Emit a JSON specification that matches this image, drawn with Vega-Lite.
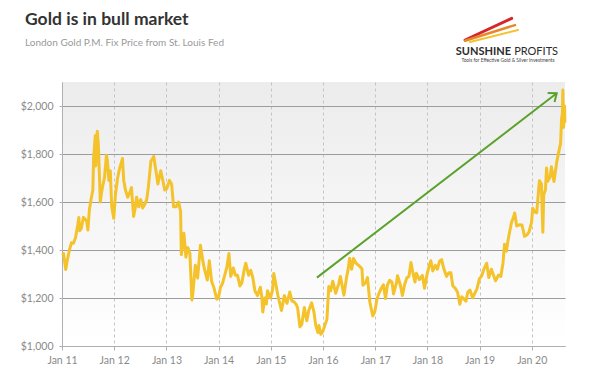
{
  "$schema": "https://vega.github.io/schema/vega-lite/v6.json",
  "width": 503,
  "height": 264,
  "autosize": {"type": "none"},
  "padding": {"left": 62, "top": 82, "right": 28, "bottom": 36},
  "background": "white",
  "title": {
    "text": "Gold is in bull market",
    "subtitle": "London Gold P.M. Fix Price from St. Louis Fed",
    "anchor": "start",
    "frame": "group",
    "dx": -37,
    "offset": -31,
    "font": "Lato",
    "fontSize": 17.5,
    "fontWeight": "bold",
    "color": "#333333",
    "subtitleFont": "Lato",
    "subtitleFontSize": 10,
    "subtitleColor": "#9a9a9a",
    "subtitlePadding": 9
  },
  "config": {
    "font": "Lato",
    "view": {
      "stroke": null,
      "fill": {"gradient": "linear", "x1": 0, "y1": 0, "x2": 0, "y2": 1,
        "stops": [{"offset": 0, "color": "#ececec"}, {"offset": 1, "color": "#ffffff"}]}
    }
  },
  "datasets": {
    "gold": [
      {"d":"2011-01-04","p":1378},{"d":"2011-01-12","p":1385},{"d":"2011-01-27","p":1319},{"d":"2011-02-08","p":1360},{"d":"2011-02-22","p":1400},{"d":"2011-03-08","p":1430},{"d":"2011-03-22","p":1428},{"d":"2011-04-05","p":1450},{"d":"2011-04-20","p":1500},{"d":"2011-04-29","p":1535},{"d":"2011-05-05","p":1480},{"d":"2011-05-16","p":1490},{"d":"2011-05-31","p":1536},{"d":"2011-06-10","p":1530},{"d":"2011-06-23","p":1520},{"d":"2011-07-01","p":1483},{"d":"2011-07-12","p":1570},{"d":"2011-07-26","p":1620},{"d":"2011-08-05","p":1650},{"d":"2011-08-10","p":1780},{"d":"2011-08-22","p":1877},{"d":"2011-08-25","p":1750},{"d":"2011-09-05","p":1895},{"d":"2011-09-13","p":1830},{"d":"2011-09-26","p":1600},{"d":"2011-10-05","p":1640},{"d":"2011-10-14","p":1670},{"d":"2011-10-25","p":1700},{"d":"2011-11-08","p":1795},{"d":"2011-11-15","p":1770},{"d":"2011-11-25","p":1690},{"d":"2011-12-05","p":1730},{"d":"2011-12-15","p":1580},{"d":"2011-12-29","p":1532},
      {"d":"2012-01-10","p":1630},{"d":"2012-01-25","p":1700},{"d":"2012-02-08","p":1740},{"d":"2012-02-28","p":1781},{"d":"2012-03-08","p":1690},{"d":"2012-03-20","p":1650},{"d":"2012-04-05","p":1620},{"d":"2012-04-20","p":1640},{"d":"2012-05-01","p":1660},{"d":"2012-05-16","p":1540},{"d":"2012-05-29","p":1580},{"d":"2012-06-06","p":1620},{"d":"2012-06-21","p":1580},{"d":"2012-07-05","p":1610},{"d":"2012-07-18","p":1575},{"d":"2012-08-02","p":1590},{"d":"2012-08-16","p":1610},{"d":"2012-08-28","p":1665},{"d":"2012-09-14","p":1770},{"d":"2012-10-04","p":1790},{"d":"2012-10-22","p":1720},{"d":"2012-11-02","p":1675},{"d":"2012-11-22","p":1730},{"d":"2012-12-05","p":1695},{"d":"2012-12-20","p":1650},
      {"d":"2013-01-03","p":1655},{"d":"2013-01-22","p":1690},{"d":"2013-02-06","p":1675},{"d":"2013-02-20","p":1580},{"d":"2013-03-10","p":1580},{"d":"2013-03-27","p":1600},{"d":"2013-04-10","p":1560},{"d":"2013-04-15","p":1380},{"d":"2013-04-23","p":1420},{"d":"2013-05-03","p":1470},{"d":"2013-05-17","p":1370},{"d":"2013-05-30","p":1410},{"d":"2013-06-14","p":1385},{"d":"2013-06-28","p":1192},{"d":"2013-07-05","p":1220},{"d":"2013-07-22","p":1336},{"d":"2013-08-07","p":1283},{"d":"2013-08-27","p":1420},{"d":"2013-09-11","p":1360},{"d":"2013-09-24","p":1320},{"d":"2013-10-14","p":1275},{"d":"2013-10-28","p":1355},{"d":"2013-11-13","p":1270},{"d":"2013-11-28","p":1245},{"d":"2013-12-19","p":1195},{"d":"2013-12-31","p":1201},
      {"d":"2014-01-14","p":1245},{"d":"2014-01-28","p":1260},{"d":"2014-02-13","p":1295},{"d":"2014-02-28","p":1330},{"d":"2014-03-14","p":1385},{"d":"2014-03-27","p":1290},{"d":"2014-04-14","p":1325},{"d":"2014-04-28","p":1295},{"d":"2014-05-13","p":1295},{"d":"2014-05-30","p":1250},{"d":"2014-06-12","p":1262},{"d":"2014-06-30","p":1320},{"d":"2014-07-10","p":1345},{"d":"2014-07-30","p":1295},{"d":"2014-08-14","p":1315},{"d":"2014-08-28","p":1285},{"d":"2014-09-12","p":1230},{"d":"2014-09-30","p":1210},{"d":"2014-10-20","p":1245},{"d":"2014-10-30","p":1205},{"d":"2014-11-06","p":1142},{"d":"2014-11-20","p":1200},{"d":"2014-12-01","p":1175},{"d":"2014-12-09","p":1230},{"d":"2014-12-30","p":1200},
      {"d":"2015-01-14","p":1235},{"d":"2015-01-22","p":1302},{"d":"2015-02-06","p":1255},{"d":"2015-02-20","p":1210},{"d":"2015-03-06","p":1175},{"d":"2015-03-17","p":1148},{"d":"2015-04-06","p":1210},{"d":"2015-04-24","p":1178},{"d":"2015-05-14","p":1225},{"d":"2015-05-29","p":1188},{"d":"2015-06-15","p":1183},{"d":"2015-06-30","p":1171},{"d":"2015-07-08","p":1158},{"d":"2015-07-24","p":1080},{"d":"2015-08-06","p":1090},{"d":"2015-08-24","p":1160},{"d":"2015-09-10","p":1105},{"d":"2015-09-25","p":1150},{"d":"2015-10-14","p":1180},{"d":"2015-10-30","p":1142},{"d":"2015-11-12","p":1085},{"d":"2015-11-27","p":1056},{"d":"2015-12-04","p":1085},{"d":"2015-12-17","p":1049},{"d":"2015-12-31","p":1060},
      {"d":"2016-01-14","p":1085},{"d":"2016-01-29","p":1111},{"d":"2016-02-11","p":1248},{"d":"2016-02-24","p":1230},{"d":"2016-03-10","p":1270},{"d":"2016-03-30","p":1220},{"d":"2016-04-21","p":1260},{"d":"2016-05-02","p":1290},{"d":"2016-05-27","p":1212},{"d":"2016-06-14","p":1285},{"d":"2016-06-24","p":1315},{"d":"2016-07-06","p":1366},{"d":"2016-07-20","p":1320},{"d":"2016-08-02","p":1365},{"d":"2016-08-19","p":1345},{"d":"2016-09-09","p":1335},{"d":"2016-09-30","p":1322},{"d":"2016-10-07","p":1253},{"d":"2016-10-27","p":1266},{"d":"2016-11-08","p":1285},{"d":"2016-11-24","p":1184},{"d":"2016-12-15","p":1125},{"d":"2016-12-30","p":1146},
      {"d":"2017-01-13","p":1196},{"d":"2017-01-24","p":1215},{"d":"2017-02-09","p":1236},{"d":"2017-02-27","p":1255},{"d":"2017-03-14","p":1198},{"d":"2017-03-27","p":1254},{"d":"2017-04-12","p":1274},{"d":"2017-04-28","p":1266},{"d":"2017-05-09","p":1217},{"d":"2017-05-31","p":1266},{"d":"2017-06-06","p":1293},{"d":"2017-06-27","p":1251},{"d":"2017-07-10","p":1211},{"d":"2017-07-26","p":1256},{"d":"2017-08-10","p":1284},{"d":"2017-08-25","p":1290},{"d":"2017-09-08","p":1348},{"d":"2017-09-20","p":1310},{"d":"2017-10-06","p":1267},{"d":"2017-10-16","p":1303},{"d":"2017-11-06","p":1277},{"d":"2017-11-27","p":1294},{"d":"2017-12-12","p":1241},{"d":"2017-12-29","p":1297},
      {"d":"2018-01-12","p":1330},{"d":"2018-01-25","p":1355},{"d":"2018-02-08","p":1313},{"d":"2018-02-26","p":1336},{"d":"2018-03-12","p":1320},{"d":"2018-03-27","p":1353},{"d":"2018-04-11","p":1360},{"d":"2018-04-25","p":1324},{"d":"2018-05-15","p":1290},{"d":"2018-05-31","p":1305},{"d":"2018-06-14","p":1305},{"d":"2018-06-28","p":1250},{"d":"2018-07-16","p":1240},{"d":"2018-07-31","p":1224},{"d":"2018-08-16","p":1174},{"d":"2018-08-29","p":1205},{"d":"2018-09-14","p":1196},{"d":"2018-09-28","p":1187},{"d":"2018-10-11","p":1225},{"d":"2018-10-26","p":1233},{"d":"2018-11-13","p":1201},{"d":"2018-11-30","p":1221},{"d":"2018-12-14","p":1238},{"d":"2018-12-31","p":1280},
      {"d":"2019-01-14","p":1290},{"d":"2019-01-31","p":1319},{"d":"2019-02-20","p":1345},{"d":"2019-03-07","p":1285},{"d":"2019-03-25","p":1320},{"d":"2019-04-12","p":1290},{"d":"2019-04-23","p":1272},{"d":"2019-05-14","p":1296},{"d":"2019-05-30","p":1290},{"d":"2019-06-14","p":1345},{"d":"2019-06-25","p":1424},{"d":"2019-07-08","p":1395},{"d":"2019-07-19","p":1440},{"d":"2019-08-07","p":1498},{"d":"2019-08-13","p":1516},{"d":"2019-08-28","p":1540},{"d":"2019-09-04","p":1554},{"d":"2019-09-18","p":1500},{"d":"2019-10-07","p":1505},{"d":"2019-10-25","p":1504},{"d":"2019-11-12","p":1457},{"d":"2019-11-29","p":1463},{"d":"2019-12-13","p":1475},{"d":"2019-12-31","p":1515},
      {"d":"2020-01-08","p":1574},{"d":"2020-01-20","p":1560},{"d":"2020-02-05","p":1555},{"d":"2020-02-24","p":1689},{"d":"2020-03-09","p":1675},{"d":"2020-03-19","p":1474},{"d":"2020-03-25","p":1630},{"d":"2020-04-06","p":1650},{"d":"2020-04-14","p":1742},{"d":"2020-04-21","p":1686},{"d":"2020-05-08","p":1703},{"d":"2020-05-18","p":1747},{"d":"2020-06-05","p":1685},{"d":"2020-06-24","p":1766},{"d":"2020-07-08","p":1809},{"d":"2020-07-21","p":1843},{"d":"2020-07-28","p":1945},{"d":"2020-08-03","p":1973},{"d":"2020-08-06","p":2067},{"d":"2020-08-11","p":1911},{"d":"2020-08-18","p":2000},{"d":"2020-08-20","p":1930}
    ],
    "arrow": [{"d": "2015-11-20", "p": 1285, "end": 0}, {"d": "2020-06-24", "p": 2053, "end": 1}],
    "swoosh": [
      {"d1": "2018-09-22", "v1": 2275, "d2": "2019-08-14", "v2": 2365, "c": "#d7262b", "w": 3},
      {"d1": "2018-09-22", "v1": 2272, "d2": "2019-09-06", "v2": 2337, "c": "#e58a2a", "w": 2.5},
      {"d1": "2018-10-26", "v1": 2267, "d2": "2019-09-27", "v2": 2317, "c": "#f3c233", "w": 2}
    ],
    "logo": [
      {"t": "SUNSHINE", "d": "2019-08-09", "v": 2214},
      {"t": "PROFITS", "d": "2019-08-31", "v": 2214},
      {"t": "Tools for Effective Gold & Silver Investments", "d": "2019-07-19", "v": 2182}
    ]
  },
  "layer": [
    {
      "data": {"name": "gold"},
      "mark": {"type": "line", "color": "#f4c22b", "strokeWidth": 3, "strokeJoin": "round"},
      "encoding": {
        "x": {
          "field": "d", "type": "temporal", "title": null,
          "scale": {"domain": [{"year": 2011, "month": 1, "date": 1}, {"year": 2020, "month": 8, "date": 21}], "nice": false},
          "axis": {
            "format": "%b %y", "tickCount": {"interval": "year", "step": 1},
            "labelColor": "#8a8a8a", "labelFontSize": 10.5, "labelPadding": 5, "labelFlush": false,
            "domainColor": "#b0b0b0", "tickColor": "#b0b0b0", "tickSize": 4,
            "grid": true, "gridColor": "#c4c4c4", "gridDash": [3, 3], "gridWidth": 1
          }
        },
        "y": {
          "field": "p", "type": "quantitative", "title": null,
          "scale": {"domain": [1000, 2100], "nice": false, "zero": false},
          "axis": {
            "values": [1000, 1200, 1400, 1600, 1800, 2000], "format": "$,d",
            "labelColor": "#8a8a8a", "labelFontSize": 10.5, "labelPadding": 6,
            "domainColor": "#b0b0b0", "tickColor": "#b0b0b0", "tickSize": 3,
            "grid": true, "gridColor": "#9c9c9c", "gridWidth": 1
          }
        }
      }
    },
    {
      "data": {"name": "arrow"},
      "mark": {"type": "line", "color": "#5ba22c", "strokeWidth": 2},
      "encoding": {
        "x": {"field": "d", "type": "temporal", "title": null},
        "y": {"field": "p", "type": "quantitative", "title": null}
      }
    },
    {
      "data": {"name": "arrow"},
      "transform": [{"filter": "datum.end == 1"}],
      "mark": {"type": "point", "shape": "M -1 -0.8 L 0 0 L -1 0.8", "filled": false, "stroke": "#5ba22c", "strokeWidth": 2, "size": 200, "angle": 322.5, "opacity": 1},
      "encoding": {
        "x": {"field": "d", "type": "temporal", "title": null},
        "y": {"field": "p", "type": "quantitative", "title": null}
      }
    },
    {
      "data": {"name": "swoosh"},
      "mark": {"type": "rule", "strokeCap": "round"},
      "encoding": {
        "x": {"field": "d1", "type": "temporal", "title": null},
        "x2": {"field": "d2"},
        "y": {"field": "v1", "type": "quantitative", "title": null},
        "y2": {"field": "v2"},
        "color": {"field": "c", "type": "nominal", "scale": null},
        "strokeWidth": {"field": "w", "type": "quantitative", "scale": null}
      }
    },
    {
      "data": {"name": "logo"},
      "transform": [{"filter": "datum.t == 'SUNSHINE'"}],
      "mark": {"type": "text", "color": "#2b2b2b", "font": "Lato", "fontWeight": "bold", "fontSize": 11, "align": "right", "baseline": "alphabetic"},
      "encoding": {
        "x": {"field": "d", "type": "temporal", "title": null},
        "y": {"field": "v", "type": "quantitative", "title": null},
        "text": {"field": "t"}
      }
    },
    {
      "data": {"name": "logo"},
      "transform": [{"filter": "datum.t == 'PROFITS'"}],
      "mark": {"type": "text", "color": "#2b2b2b", "font": "Lato", "fontWeight": "normal", "fontSize": 11, "align": "left", "baseline": "alphabetic"},
      "encoding": {
        "x": {"field": "d", "type": "temporal", "title": null},
        "y": {"field": "v", "type": "quantitative", "title": null},
        "text": {"field": "t"}
      }
    },
    {
      "data": {"name": "logo"},
      "transform": [{"filter": "length(datum.t) > 10"}],
      "mark": {"type": "text", "color": "#444444", "font": "Lato", "fontSize": 4.8, "align": "center", "baseline": "alphabetic"},
      "encoding": {
        "x": {"field": "d", "type": "temporal", "title": null},
        "y": {"field": "v", "type": "quantitative", "title": null},
        "text": {"field": "t"}
      }
    }
  ]
}
